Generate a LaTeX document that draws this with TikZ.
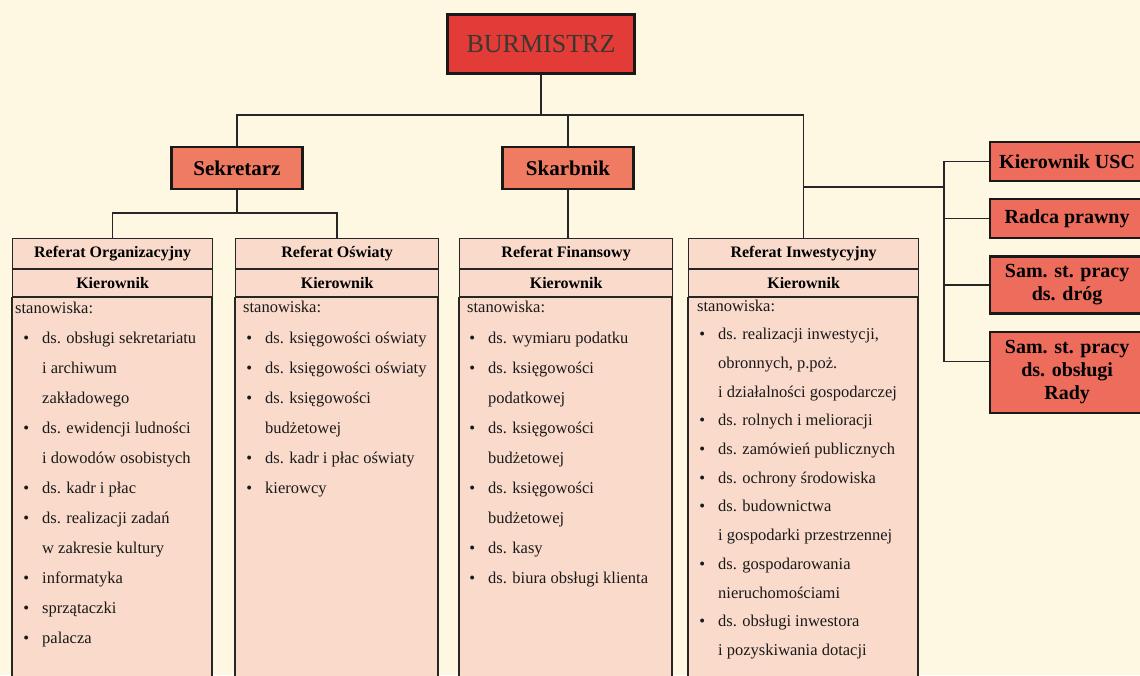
\documentclass[tikz,border=0pt]{standalone}
\usepackage{fontspec}
\setmainfont{Liberation Serif}
\usetikzlibrary{positioning}
\definecolor{tlo}{HTML}{FEF8E2}
\definecolor{burm}{HTML}{E23B38}
\definecolor{burmtekst}{HTML}{3A3830}
\definecolor{zast}{HTML}{EF7B62}
\definecolor{samo}{HTML}{EE6C5C}
\definecolor{refer}{HTML}{F9DACB}
\newcommand{\pkt}{\llap{\textbullet\hspace{13pt}}}

\begin{document}
\begin{tikzpicture} [x=1pt, y=-1pt,
	linia/.style={draw=black!85, line width=1.3pt},
	glowny/.style={draw=black!90, line width=3pt, fill=burm, minimum width=187pt, minimum height=59pt, font=\fontsize{26}{30}\selectfont, text=burmtekst},
	zastepca/.style={draw=black!90, line width=2.2pt, fill=zast, minimum width=131pt, minimum height=42pt, font=\bfseries\fontsize{21}{24}\selectfont},
	samodzielny/.style={draw=black!90, line width=2.2pt, fill=samo, minimum width=154pt, align=center, font=\bfseries\fontsize{20}{23}\selectfont},
	naglowek/.style={draw=black!85, line width=1.2pt, fill=refer, minimum height=30pt, font=\bfseries\fontsize{16}{18}\selectfont, anchor=north west},
	ramka/.style={draw=black!85, line width=1.2pt, fill=refer},
	wiersz/.style={anchor=base west, inner sep=0pt, text=black!90, font=\fontsize{16.5}{18}\selectfont}]
	\clip (0,0) rectangle (1140,675);
	\fill[tlo] (0,0) rectangle (1140,675);

	\node [glowny] (burmistrz) at (541,44) {BURMISTRZ};
	\node [zastepca] (sekr) at (237,168) {Sekretarz};
	\node [zastepca] (skarb) at (568,168) {Skarbnik};

	\node [samodzielny, minimum height=39pt, anchor=north west] (usc) at (989,141) {Kierownik USC};
	\node [samodzielny, minimum height=39pt, below=16pt of usc] (radca) {Radca prawny};
	\node [samodzielny, minimum height=57pt, below=16pt of radca] (drogi) {Sam. st. pracy\\ds. dróg};
	\node [samodzielny, minimum height=81pt, below=16pt of drogi] (rada) {Sam. st. pracy\\ds. obsługi\\Rady};

	\node [naglowek, minimum width=200pt] (orgNagl) at (12,238) {Referat Organizacyjny};
	\node [naglowek, minimum width=200pt, minimum height=27pt, below=0pt of orgNagl] (orgKier) {Kierownik};
	\filldraw [ramka] (orgKier.south west) rectangle ++(200,420);
	\node [naglowek, minimum width=203pt] (oswNagl) at (235,238) {Referat Oświaty};
	\node [naglowek, minimum width=203pt, minimum height=27pt, below=0pt of oswNagl] (oswKier) {Kierownik};
	\filldraw [ramka] (oswKier.south west) rectangle ++(203,420);
	\node [naglowek, minimum width=213pt] (finNagl) at (459,238) {Referat Finansowy};
	\node [naglowek, minimum width=213pt, minimum height=27pt, below=0pt of finNagl] (finKier) {Kierownik};
	\filldraw [ramka] (finKier.south west) rectangle ++(213,420);
	\node [naglowek, minimum width=230pt] (inwNagl) at (688,238) {Referat Inwestycyjny};
	\node [naglowek, minimum width=230pt, minimum height=27pt, below=0pt of inwNagl] (inwKier) {Kierownik};
	\filldraw [ramka] (inwKier.south west) rectangle ++(230,420);

	\node [wiersz] (orgStan) at (15,313) {stanowiska:};
	\foreach \t [count=\i] in {\pkt ds. obsługi sekretariatu, i archiwum, zakładowego,
			\pkt ds. ewidencji ludności, i dowodów osobistych, \pkt ds. kadr i płac,
			\pkt ds. realizacji  zadań, w zakresie kultury, \pkt informatyka,
			\pkt sprzątaczki, \pkt palacza}
		\node [wiersz] (org-\i) at (42,313+30*\i) {\t};

	\node [wiersz] (oswStan) at (243,312) {stanowiska:};
	\foreach \t [count=\i] in {\pkt ds. księgowości oświaty, \pkt ds. księgowości oświaty,
			\pkt ds. księgowości, budżetowej, \pkt ds. kadr i płac oświaty, \pkt kierowcy}
		\node [wiersz] (osw-\i) at (265,313+30*\i) {\t};

	\node [wiersz] (finStan) at (467,312) {stanowiska:};
	\foreach \t [count=\i] in {\pkt ds. wymiaru podatku, \pkt ds. księgowości, podatkowej,
			\pkt ds. księgowości, budżetowej, \pkt ds. księgowości, budżetowej,
			\pkt ds. kasy, \pkt ds. biura obsługi klienta}
		\node [wiersz] (fin-\i) at (488,313+30*\i) {\t};

	\node [wiersz] (inwStan) at (697,311) {stanowiska:};
	\foreach \t [count=\i] in {{\pkt ds. realizacji inwestycji,}, {obronnych, p.poż.},
			i działalności gospodarczej, \pkt ds. rolnych i melioracji,
			\pkt ds. zamówień publicznych, \pkt ds. ochrony środowiska,
			\pkt ds. budownictwa, i gospodarki przestrzennej,
			\pkt ds. gospodarowania, nieruchomościami,
			\pkt ds. obsługi inwestora, i pozyskiwania dotacji}
		\node [wiersz] (inw-\i) at (718,311+28.7*\i) {\t};

	\coordinate (rozg) at (burmistrz.south |- 0,115);
	\draw [linia] (burmistrz) -- (rozg);
	\draw [linia] (sekr.north) |- (rozg) -| (inwNagl.north);
	\draw [linia] (skarb.north) -- (skarb.north |- rozg);
	\draw [linia] (skarb) -- (skarb.south |- finNagl.north);

	\coordinate (sekRozg) at (sekr.south |- 0,213);
	\draw [linia] (sekr) -- (sekRozg);
	\draw [linia] (orgNagl.north) |- (sekRozg) -| (oswNagl.north);

	\coordinate (bok) at (inwNagl.north |- 0,187);
	\coordinate (szyna) at (944,187);
	\draw [linia] (bok) -- (szyna);
	\draw [linia] (usc.west) -| (szyna) |- ([yshift=11pt]rada.west);
	\draw [linia] (radca.west) -- (radca.west -| szyna);
	\draw [linia] (drogi.west) -- (drogi.west -| szyna);
\end{tikzpicture}
\end{document}
